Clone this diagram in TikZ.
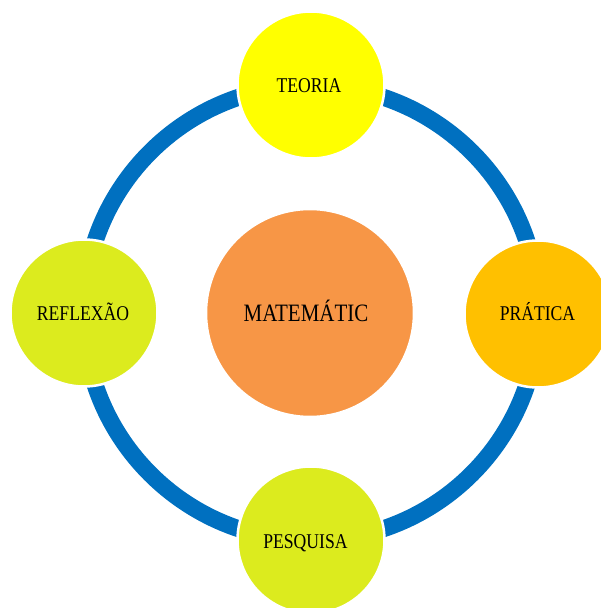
\documentclass[tikz,border=0pt]{standalone}
\usepackage{fontspec}
\setmainfont{Liberation Serif}[FakeStretch=0.84]
\begin{document}
\begin{tikzpicture}[x=1pt,y=-1pt,
  ring/.style={draw=ringblue,line width=17pt},
  bubble/.style={circle,draw=white,line width=2.5pt,inner sep=0pt,minimum size=147pt},
  hub/.style={bubble,minimum size=208pt},
  word/.style={inner sep=0pt,text=black,text depth=0pt,
    font=\fontsize{21}{23}\selectfont,text height=13.9pt},
  bigword/.style={word,font=\fontsize{25}{28}\selectfont,text height=16.5pt}]
  \definecolor{ringblue}{HTML}{0070C0}
  \definecolor{hubfill}{HTML}{F79646}
  \definecolor{topfill}{HTML}{FFFF00}
  \definecolor{rightfill}{HTML}{FFC000}
  \definecolor{limefill}{HTML}{DCEB1E}
  \useasboundingbox (0,0) rectangle (601,608);
  \clip (0,0) rectangle (601,608);
  % outer ring joining the four stages
  \coordinate (c) at (311,313);
  \draw[ring] (c) circle[radius=227.5];
  % centre and the four surrounding stages
  \node[hub,fill=hubfill] (mat) at (310,313) {};
  \node[bubble,fill=topfill] (teo) at (311,85) {};
  \node[bubble,fill=rightfill] (pra) at (538,314) {};
  \node[bubble,fill=limefill] (pes) at (311,540) {};
  \node[bubble,fill=limefill] (ref) at (84,313) {};
  % labels
  \node[bigword] (matT) at (306,313) {MATEMÁTIC};
  \node[word] (teoT) at (309,86) {TEORIA};
  \node[word] (praT) at (537.5,314) {PRÁTICA};
  \node[word] (pesT) at (305.5,541.5) {PESQUISA};
  \node[word] (refT) at (83,313.5) {REFLEXÃO};
\end{tikzpicture}
\end{document}
